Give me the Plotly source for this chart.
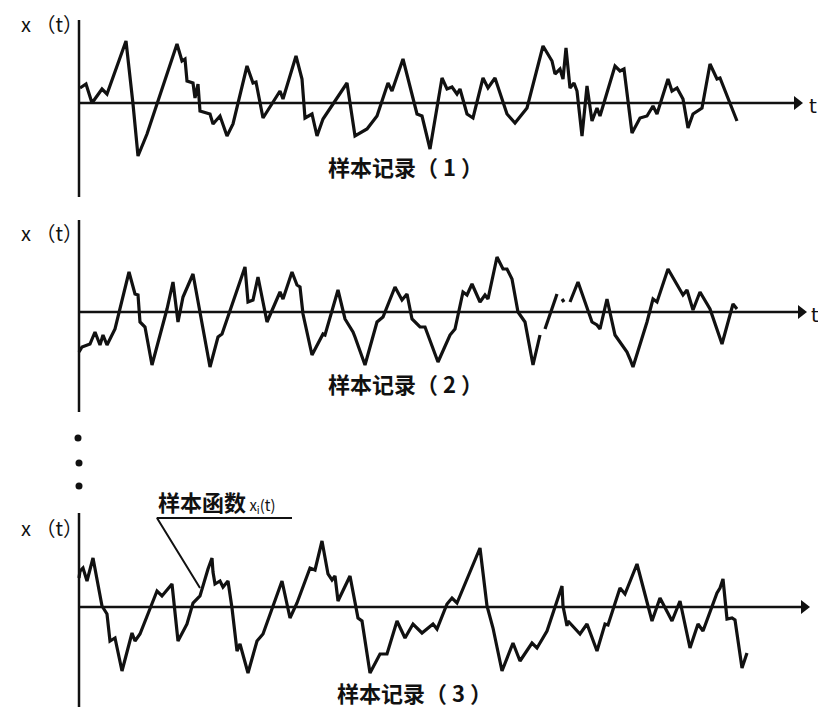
import plotly.graph_objects as go

# ---------------- data (t from the vertical axis, amplitude above the time axis) -------------
t1 = [1, 7, 13, 23, 28, 47, 54, 59, 68, 98, 103, 106, 108, 114, 116, 119, 121, 131, 134, 141,
      148, 154, 168, 174, 177, 184, 201, 204, 217, 223, 226, 233, 238, 244, 268, 276, 288, 298,
      309, 313, 324, 331, 338, 343, 351, 363, 368, 373, 378, 381, 388, 394, 404, 409, 416, 428,
      436, 448, 464, 473, 476, 481, 484, 487, 491, 495, 498, 503, 508, 513, 518, 521, 536, 541,
      545, 553, 561, 568, 574, 578, 589, 593, 598, 604, 609, 614, 623, 631, 638, 641, 658]
x1 = [15, 19, 0, 14, 9, 62, -1, -53, -31, 59, 42, 44, 22, 20, 5, 19, -8, -11, -21, -13,
      -33, -21, 37, 20, 21, -15, 12, 4, 47, 24, -15, -11, -33, -16, 20, -33, -26, -13,
      20, 12, 44, 17, -11, -13, -46, 25, 14, 16, 9, 14, -11, -15, 25, 15, 25, -11,
      -20, -5, 57, 42, 29, 34, 24, 55, 15, 20, 12, -33, 17, -18, -5, -13, 37, 32,
      34, -30, -15, -13, -3, -11, 24, 12, 15, 4, -25, -11, -5, 39, 24, 25, -18]

t2 = [0, 3, 11, 16, 21, 24, 28, 36, 50, 56, 59, 61, 66, 73, 88, 94, 99, 104, 114, 131, 139,
      143, 166, 169, 174, 179, 188, 201, 204, 213, 218, 221, 224, 233, 244, 246, 259, 266, 274,
      276, 286, 298, 304, 316, 323, 328, 333, 341, 346, 359, 371, 376, 384, 388, 393, 401, 406,
      409, 418, 424, 428, 433, 439, 446, 454, 461, None, 466, 478, None, 483, 485, None, 491,
      499, 513, 518, 521, 528, 536, 541, 548, 551, 554, 568, 574, 578, 589, 604, 608, 614, 621,
      631, 643, 654, 658]
x2 = [-40, -35, -32, -20, -33, -23, -33, -17, 40, 18, 17, -10, -15, -53, 3, 30, -10, 15, 38, -55, -25,
      -22, 45, 10, 12, 35, -10, 20, 13, 40, 27, 25, -2, -43, -22, -23, 22, -7, -20,
      -25, -53, -10, -5, 25, 12, 18, -7, -15, -15, -50, -23, -17, 20, 17, 28, 10, 17,
      13, 55, 43, 43, 33, 0, -10, -53, -23, None, -17, 18, None, 13, 10, None, 10,
      30, -10, -13, -17, 13, -23, -30, -40, -47, -55, -10, 13, 10, 43, 17, 22, 2, 20,
      3, -32, 8, 3]

t3 = [0, 1, 4, 8, 14, 23, 28, 31, 36, 43, 53, 56, 61, 73, 78, 83, 93, 99, 108, 114, 121, 129,
      133, 134, 136, 141, 144, 149, 153, 158, 161, 169, 178, 184, 193, 203, 211, 218, 231, 236,
      243, 249, 253, 256, 259, 271, 279, 283, 291, 301, 308, 318, 326, 334, 343, 354, 358, 368,
      373, 378, 401, 408, 414, 423, 434, 441, 453, 458, 468, 483, 484, 488, 489, 501, 508, 518,
      526, 529, 541, 546, 558, 573, 581, 593, 601, 611, 619, 624, 638, 641, 644, 648, 653, 656,
      663, 668]
x3 = [29, 36, 39, 26, 49, 1, -7, -34, -31, -64, -26, -34, -27, 4, 16, 11, 23, -34, -17, 4, 11, 38,
      49, 35, 23, 26, 20, 26, -1, -44, -37, -66, -34, -27, -1, 26, -11, 4, 39, 37,
      66, 33, 27, 31, 6, 31, -11, -14, -66, -47, -47, -14, -31, -17, -26, -17, -22, 3,
      9, 4, 59, 1, -21, -64, -36, -54, -36, -41, -24, 21, 1, -19, -14, -27, -17, -44,
      -17, -18, 19, 13, 43, -14, 9, -14, 6, -41, -17, -24, 14, 19, 28, -12, -11, -13,
      -61, -46]

captions = ["样本记录（ 1 ）", "样本记录（ 2 ）", "样本记录（ 3 ）"]
ylabel = "x （t）"
xlabel = "t"
callout_cn = "样本函数"
callout_sym = " x<sub>i</sub>(t)"

INK = "#111111"
CJK = "Noto Sans CJK SC"

fig = go.Figure()

# panel geometry (axis rows in pixel rows of the 707 px figure)
rows = [103, 312, 607]
yaxes = ["y", "y2", "y3"]
series = [(t1, x1), (t2, x2), (t3, x3)]
vspan = [(83, -94), (92, -100), (94, -100)]
tips = [724, 728, 731]
label_rows = [23, 232, 527]

for i, (tt, xx) in enumerate(series):
    ya = yaxes[i]
    # time axis
    fig.add_trace(go.Scatter(x=[0, tips[i] - 8], y=[0, 0], mode="lines",
                             line=dict(color=INK, width=2.5), yaxis=ya, hoverinfo="skip"))
    # arrow head on time axis
    fig.add_trace(go.Scatter(x=[tips[i] - 6], y=[0], mode="markers",
                             marker=dict(symbol="triangle-right", size=12, color=INK,
                                         line=dict(width=0)),
                             yaxis=ya, hoverinfo="skip"))
    # vertical axis
    fig.add_trace(go.Scatter(x=[0, 0], y=list(vspan[i]), mode="lines",
                             line=dict(color=INK, width=2.5), yaxis=ya, hoverinfo="skip"))
    # sample record
    fig.add_trace(go.Scatter(x=tt, y=xx, mode="lines",
                             line=dict(color=INK, width=3.2, shape="linear"),
                             connectgaps=False, yaxis=ya))
    # y label
    fig.add_annotation(x=6, y=rows[i] - label_rows[i], xref="x", yref=ya,
                       text=ylabel, showarrow=False, xanchor="right",
                       font=dict(family=CJK, size=20, color=INK))
    # caption
    fig.add_annotation(x=[326, 326, 335][i], y=[-63, -71, -85][i], xref="x", yref=ya,
                       text="<b>" + captions[i] + "</b>", showarrow=False,
                       font=dict(family=CJK, size=22, color=INK))

# "t" labels on first two panels
for i in range(2):
    fig.add_annotation(x=[734, 736][i], y=-3, xref="x", yref=yaxes[i], text=xlabel,
                       showarrow=False, xanchor="center",
                       font=dict(family="DejaVu Sans", size=20, color=INK))

# continuation dots between panels 2 and 3
fig.add_trace(go.Scatter(x=[-1, 0, 0], y=[169, 144, 121], mode="markers",
                         marker=dict(color=INK, size=7), yaxis="y3", hoverinfo="skip"))

# callout on panel 3
fig.add_trace(go.Scatter(x=[213, 78, 121], y=[89, 89, 19], mode="lines",
                         line=dict(color=INK, width=2), yaxis="y3", hoverinfo="skip"))
fig.add_annotation(x=77, y=106, xref="x", yref="y3",
                   text="<b>" + callout_cn + "</b><span style='font-size:15px'>"
                        + callout_sym + "</span>",
                   showarrow=False, xanchor="left",
                   font=dict(family=CJK, size=22, color=INK))

H = 707
ax_common = dict(visible=False, showgrid=False, zeroline=False, fixedrange=True)
fig.update_layout(
    width=818, height=H, margin=dict(l=0, r=0, t=0, b=0),
    paper_bgcolor="white", plot_bgcolor="white", showlegend=False,
    xaxis=dict(range=[-79, 739], domain=[0, 1], **ax_common),
    yaxis=dict(range=[rows[0] - H, rows[0]], domain=[0, 1], **ax_common),
    yaxis2=dict(range=[rows[1] - H, rows[1]], domain=[0, 1], overlaying="y", **ax_common),
    yaxis3=dict(range=[rows[2] - H, rows[2]], domain=[0, 1], overlaying="y", **ax_common),
)

fig.write_html("out.html", config={"displayModeBar": False},
               post_script="document.body.style.margin='0px';")
